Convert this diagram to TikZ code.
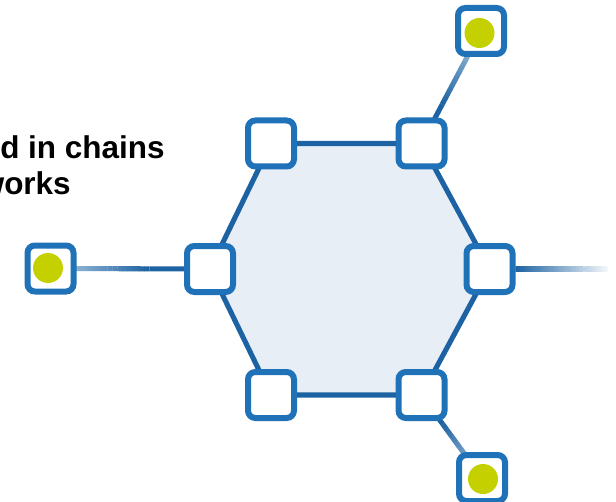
\documentclass[tikz,border=0pt]{standalone}
\usepackage{fontspec}
\setmainfont{Liberation Sans}
\usetikzlibrary{calc}
\definecolor{boxblue}{HTML}{1F71B8}
\definecolor{edgeblue}{HTML}{1D62A2}
\definecolor{hexfill}{HTML}{E7EEF6}
\definecolor{dotgreen}{HTML}{C4D000}
\definecolor{lightblue}{HTML}{B3CEE4}
\definecolor{fadewhite}{HTML}{F4F7FA}
\newcommand\gradseg[5]{% from, to, colour at from, colour at to, steps
  \foreach \i in {1,...,#5}{%
    \pgfmathsetmacro\pa{(\i-1)/#5}%
    \pgfmathsetmacro\pb{min(1,(\i+0.15)/#5)}%
    \pgfmathsetmacro\pc{100-100*(\i-0.5)/#5}%
    \draw[conn, color=#3!\pc!#4] ($(#1)!\pa!(#2)$) -- ($(#1)!\pb!(#2)$);
  }}
\begin{document}
\begin{tikzpicture}[x=0.75pt,y=-0.75pt,
  hub/.style={draw=boxblue, line width=4.5pt, fill=white, rounded corners=5.5pt,
    minimum size=34.5pt, inner sep=0pt, outer sep=0pt},
  dot/.style={circle, fill=dotgreen, minimum size=22.5pt, inner sep=0pt},
  hexedge/.style={draw=edgeblue, line width=3.8pt},
  conn/.style={line width=3.8pt},
  label/.style={font=\bfseries\fontsize{23.6}{28}\selectfont, text=black, inner sep=0pt}]
\useasboundingbox (0,0) rectangle (616,502);
% hexagon hubs
\coordinate (hL) at (210,269);
\coordinate (hTL) at (271,143.5);
\coordinate (hTR) at (421.5,143.5);
\coordinate (hR) at (489.5,269);
\coordinate (hBR) at (421.5,395);
\coordinate (hBL) at (271,395);
% satellites
\coordinate (sL) at (50.5,268.5);
\coordinate (sTR) at (481,31);
\coordinate (sBR) at (482,478);
\coordinate (rend) at (608,269);
\fill[hexfill] (hL) -- (hTL) -- (hTR) -- (hR) -- (hBR) -- (hBL) -- cycle;
\draw[hexedge, line join=round] (hL) -- (hTL) -- (hTR) -- (hR) -- (hBR) -- (hBL) -- cycle;
% connectors
\coordinate (mL) at ($(sL)!0.62!(hL)$);
\gradseg{sL}{mL}{lightblue}{edgeblue}{40}
\draw[conn, color=edgeblue] (mL) -- (hL);
\coordinate (mR) at ($(hR)!0.22!(rend)$);
\draw[conn, color=edgeblue] (hR) -- (mR);
\gradseg{mR}{rend}{edgeblue}{fadewhite}{40}
\coordinate (mTR) at ($(hTR)!0.35!(sTR)$);
\draw[conn, color=edgeblue] (hTR) -- (mTR);
\gradseg{mTR}{sTR}{edgeblue}{lightblue}{30}
\coordinate (mBR) at ($(hBR)!0.35!(sBR)$);
\draw[conn, color=edgeblue] (hBR) -- (mBR);
\gradseg{mBR}{sBR}{edgeblue}{lightblue}{30}
% nodes
\node[hub] (L) at (hL) {};
\node[hub] (TL) at (hTL) {};
\node[hub] (TR) at (hTR) {};
\node[hub] (R) at (hR) {};
\node[hub] (BR) at (hBR) {};
\node[hub] (BL) at (hBL) {};
\node[hub] (SL) at (sL) {};
\node[hub] (STR) at (sTR) {};
\node[hub] (SBR) at (sBR) {};
\node[dot] (dL) at (48,268) {};
\node[dot] (dTR) at (479.5,33) {};
\node[dot] (dBR) at (483,479) {};
% text
\begin{scope}
\clip (0,0) rectangle (616,502);
\node[label, anchor=base west] (t1) at (0,159) {d in chains};
\node[label, anchor=base east] (t2) at (71,195) {works};
\end{scope}
\end{tikzpicture}
\end{document}
